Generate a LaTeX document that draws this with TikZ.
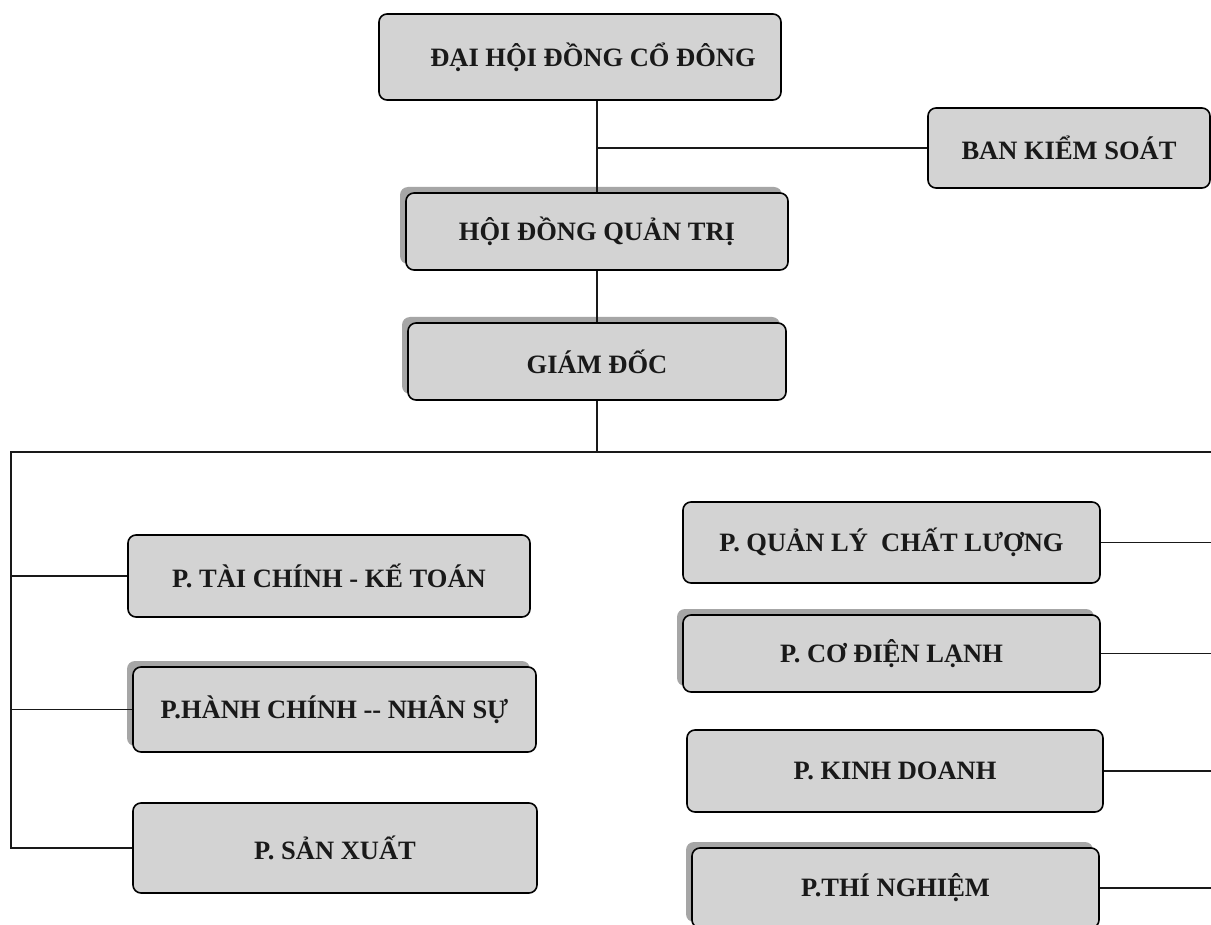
\documentclass[tikz,border=0pt]{standalone}
\usepackage{fontspec}
\setmainfont{Liberation Serif}
\usetikzlibrary{shadows}
\definecolor{boxgray}{HTML}{D3D3D3}
\definecolor{shgray}{HTML}{A6A6A6}
\tikzset{
  orgbox/.style={draw=black, line width=1.6pt, fill=boxgray, rounded corners=8pt,
    inner sep=0pt, font=\fontsize{26.5}{30}\selectfont\bfseries, text=black!90},
  shbox/.style={orgbox, general shadow={fill=shgray, shadow xshift=-6pt, shadow yshift=6pt}},
  conn/.style={line width=1.4pt, draw=black!90}
}
\begin{document}
\begin{tikzpicture}[x=1pt,y=-1pt]
\useasboundingbox (0,0) rectangle (1211,925);
\fill[white] (0,0) rectangle (1211,925);
% top level
\node[orgbox, minimum width=402pt, minimum height=86pt] (dh) at (580,57) {\hspace*{26pt}ĐẠI HỘI ĐỒNG CỔ ĐÔNG};
\node[orgbox, minimum width=282pt, minimum height=80pt] (bks) at (1069,148) {BAN KIỂM SOÁT};
\node[shbox, minimum width=382pt, minimum height=77pt] (hdqt) at (597,231.5) {HỘI ĐỒNG QUẢN TRỊ};
\node[shbox, minimum width=378pt, minimum height=77pt] (gd) at (597,361.5) {GIÁM ĐỐC};
% left column
\node[orgbox, minimum width=402pt, minimum height=82pt] (tc) at (329,576) {P. TÀI CHÍNH - KẾ TOÁN};
\node[shbox, minimum width=403pt, minimum height=85pt] (hc) at (334.5,709.5) {P.HÀNH CHÍNH -{}- NHÂN SỰ};
\node[orgbox, minimum width=404pt, minimum height=90pt] (sx) at (335,848) {P. SẢN XUẤT};
% right column
\node[orgbox, minimum width=417pt, minimum height=81pt] (ql) at (891.5,542.5) {P. QUẢN LÝ\ \ CHẤT LƯỢNG};
\node[shbox, minimum width=417pt, minimum height=77pt] (cd) at (891.5,653.5) {P. CƠ ĐIỆN LẠNH};
\node[orgbox, minimum width=416pt, minimum height=82pt] (kd) at (895,771) {P. KINH DOANH};
\node[shbox, minimum width=407pt, minimum height=80pt] (tn) at (895.5,888) {P.THÍ NGHIỆM};
% bus coordinates
\coordinate (J) at (597,452);
\coordinate (L) at (11,452);
\coordinate (R) at (1211,452);
% connectors
\draw[conn] (dh.south -| hdqt.north) -- (hdqt.north);
\draw[conn] (hdqt.north |- bks.west) -- (bks.west);
\draw[conn] (hdqt.south) -- (gd.north);
\draw[conn] (gd.south) -- (J);
\draw[conn] (R) -- (L) -- (L |- sx.west) -- (sx.west);
\draw[conn] (L |- tc.west) -- (tc.west);
\draw[conn] (L |- hc.west) -- (hc.west);
\draw[conn] (ql.east) -- (ql.east -| R);
\draw[conn] (cd.east) -- (cd.east -| R);
\draw[conn] (kd.east) -- (kd.east -| R);
\draw[conn] (tn.east) -- (tn.east -| R);
\end{tikzpicture}
\end{document}
